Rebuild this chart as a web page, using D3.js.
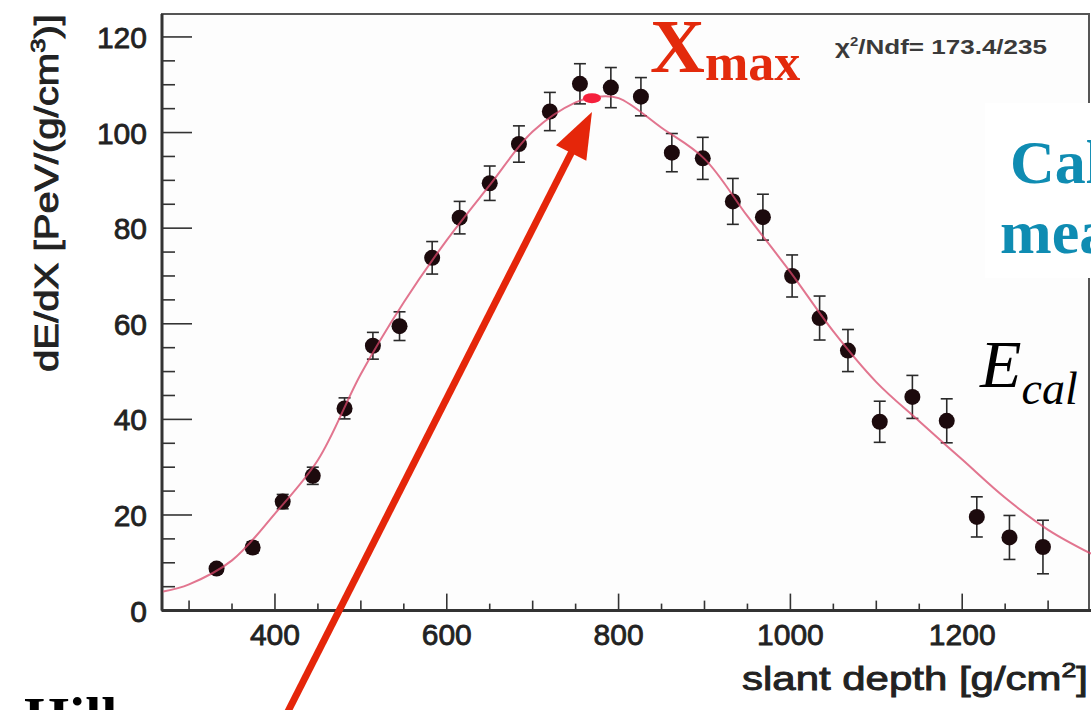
<!DOCTYPE html>
<html>
<head>
<meta charset="utf-8">
<script src="https://cdn.jsdelivr.net/npm/d3@7.9.0/dist/d3.min.js"></script>
<style>
  body { margin: 0; background: #fff; overflow: hidden; }
  svg { display: block; }
</style>
</head>
<body>
<svg id="plot" width="1091" height="710"></svg>
<script>
// measured longitudinal profile (slant depth in g/cm2, dE/dX in PeV/(g/cm2))
const depth = [332, 374, 409, 444, 481, 514, 545, 583, 615, 650, 684, 720, 755, 791,
               826, 862, 898, 933, 968, 1002, 1034, 1067, 1104, 1142, 1182, 1217, 1255, 1294];
const dEdX = [8.8, 13.2, 22.8, 28.2, 42.3, 55.4, 59.5, 73.8, 82.2, 89.4, 97.6, 104.4, 110.2, 109.4,
              107.5, 95.8, 94.6, 85.6, 82.3, 70.0, 61.2, 54.4, 39.5, 44.7, 39.7, 19.6, 15.3, 13.3];
const dEdXErr = [1.0, 1.2, 1.5, 1.8, 2.2, 2.8, 3.0, 3.4, 3.4, 3.6, 3.8, 4.0, 4.2, 4.2,
                 4.0, 4.0, 4.4, 4.8, 4.8, 4.4, 4.6, 4.4, 4.3, 4.5, 4.6, 4.2, 4.6, 5.6];

// Gaisser-Hillas fit
const fitDepth = [270, 300, 350, 400, 450, 500, 550, 600, 650, 700, 750, 775, 800, 850,
                  900, 950, 1000, 1050, 1100, 1150, 1200, 1250, 1300, 1350];
const fitValue = [4.0, 5.5, 10.5, 20.3, 31.5, 49.5, 64.5, 77.5, 89.0, 100.2, 106.3, 107.5, 107.2, 101.0,
                  94.5, 82.5, 70.8, 58.4, 47.8, 39.6, 31.6, 23.6, 16.9, 11.9];

const xmaxPoint = { depth: 769, value: 107.2 };

const xTicks = [400, 600, 800, 1000, 1200];
const yTicks = [0, 20, 40, 60, 80, 100, 120];

const svg = d3.select("#plot");

const x = d3.scaleLinear().domain([268.5, 1347.6]).range([162, 1089]);
const y = d3.scaleLinear().domain([0, 124.8]).range([610.6, 14]);

const axisColor = "#333";
const labelFont = "'Liberation Sans', Arial, Helvetica, sans-serif";
const serif = "'Liberation Serif', 'Times New Roman', serif";

// frame
svg.append("rect")
    .attr("x", x.range()[0]).attr("y", y.range()[1])
    .attr("width", x.range()[1] - x.range()[0])
    .attr("height", y.range()[0] - y.range()[1])
    .attr("fill", "#fdfdfd")
    .attr("stroke", "#555")
    .attr("stroke-width", 2);

// x ticks (major every 200, small every 50)
const xMinor = d3.range(300, 1350, 50);
svg.append("g").selectAll("line")
    .data(xMinor)
    .join("line")
    .attr("x1", d => x(d)).attr("x2", d => x(d))
    .attr("y1", y(0))
    .attr("y2", d => y(0) - (d % 200 === 0 ? 17 : (d % 100 === 0 ? 10 : 7)))
    .attr("stroke", axisColor).attr("stroke-width", 1.6);

// y ticks (major every 20, minor every 5)
const yMinor = d3.range(5, 125, 5);
svg.append("g").selectAll("line")
    .data(yMinor)
    .join("line")
    .attr("x1", x.range()[0])
    .attr("x2", d => x.range()[0] + (d % 20 === 0 ? 30 : 13))
    .attr("y1", d => y(d)).attr("y2", d => y(d))
    .attr("stroke", axisColor).attr("stroke-width", 1.6);

// axes lines
svg.append("line")
    .attr("x1", x.range()[0]).attr("x2", 1091)
    .attr("y1", y(0)).attr("y2", y(0))
    .attr("stroke", "#333").attr("stroke-width", 3);
svg.append("line")
    .attr("x1", x.range()[0]).attr("x2", x.range()[0])
    .attr("y1", y.range()[1]).attr("y2", y(0))
    .attr("stroke", "#333").attr("stroke-width", 3);

// tick labels
svg.append("g").selectAll("text")
    .data(xTicks)
    .join("text")
    .attr("x", d => x(d))
    .attr("y", 645)
    .attr("text-anchor", "middle")
    .attr("font-family", labelFont)
    .attr("font-size", 30)
    .attr("fill", "#222")
    .attr("stroke", "#222").attr("stroke-width", 0.8)
    .text(d => d);

svg.append("g").selectAll("text")
    .data(yTicks)
    .join("text")
    .attr("x", 147)
    .attr("y", d => y(d) + 11)
    .attr("text-anchor", "end")
    .attr("font-family", labelFont)
    .attr("font-size", 30)
    .attr("fill", "#222")
    .attr("stroke", "#222").attr("stroke-width", 0.8)
    .text(d => d);

// axis titles
svg.append("text")
    .attr("x", 1088).attr("y", 690)
    .attr("text-anchor", "end")
    .attr("font-family", labelFont)
    .attr("font-size", 33)
    .attr("fill", "#222")
    .attr("stroke", "#222").attr("stroke-width", 0.9)
    .attr("textLength", 346)
    .attr("lengthAdjust", "spacingAndGlyphs")
    .html("slant depth [g/cm<tspan dy='-13' font-size='21'>2</tspan><tspan dy='13'>]</tspan>");

svg.append("text")
    .attr("transform", "translate(58,372) rotate(-90)")
    .attr("font-family", labelFont)
    .attr("font-size", 33)
    .attr("fill", "#222")
    .attr("stroke", "#222").attr("stroke-width", 0.9)
    .attr("textLength", 358)
    .attr("lengthAdjust", "spacingAndGlyphs")
    .html("dE/dX [PeV/(g/cm<tspan dy='-13' font-size='21'>3</tspan><tspan dy='13'>)]</tspan>");

// chi2 text
svg.append("text")
    .attr("x", 835).attr("y", 54)
    .attr("font-family", labelFont)
    .attr("font-weight", "bold")
    .attr("font-size", 21)
    .attr("fill", "#3a3a3a")
    .attr("textLength", 212)
    .attr("lengthAdjust", "spacingAndGlyphs")
    .html("&#967;<tspan dy='-8' font-size='12'>2</tspan><tspan dy='8'>/Ndf=  173.4/235</tspan>");

// error bars
const pts = depth.map((d, i) => ({ x: d, y: dEdX[i], e: dEdXErr[i] }));
const eb = svg.append("g").attr("stroke", "#2a2a2a").attr("stroke-width", 1.6);
eb.selectAll(".bar").data(pts).join("line")
    .attr("x1", d => x(d.x)).attr("x2", d => x(d.x))
    .attr("y1", d => y(d.y - d.e)).attr("y2", d => y(d.y + d.e));
eb.selectAll(".capTop").data(pts).join("line")
    .attr("x1", d => x(d.x) - 6).attr("x2", d => x(d.x) + 6)
    .attr("y1", d => y(d.y + d.e)).attr("y2", d => y(d.y + d.e));
eb.selectAll(".capBot").data(pts).join("line")
    .attr("x1", d => x(d.x) - 6).attr("x2", d => x(d.x) + 6)
    .attr("y1", d => y(d.y - d.e)).attr("y2", d => y(d.y - d.e));

// markers
svg.append("g").selectAll("circle")
    .data(pts)
    .join("circle")
    .attr("cx", d => x(d.x))
    .attr("cy", d => y(d.y))
    .attr("r", 8)
    .attr("fill", "#1c0a0d");

// fit curve
const fit = fitDepth.map((d, i) => [d, fitValue[i]]);
svg.append("path")
    .datum(fit)
    .attr("d", d3.line().x(d => x(d[0])).y(d => y(d[1])).curve(d3.curveCatmullRom.alpha(0.5)))
    .attr("fill", "none")
    .attr("stroke", "#d8476a")
    .attr("stroke-opacity", 0.75)
    .attr("stroke-width", 2);

// Xmax marker
svg.append("ellipse")
    .attr("cx", x(xmaxPoint.depth)).attr("cy", y(xmaxPoint.value))
    .attr("rx", 9).attr("ry", 5)
    .attr("fill", "#f5203c");

// Xmax label
svg.append("text")
    .attr("x", 650).attr("y", 72)
    .attr("font-family", serif)
    .attr("font-weight", "bold")
    .attr("font-size", 76)
    .attr("fill", "#e32a0c")
    .html("X<tspan font-size='52' dy='8'>max</tspan>");

// arrow pointing at Xmax
const tail = [x(414), y(-21.5)];
const tip = [x(769), y(104.3)];
const dx = tip[0] - tail[0], dy = tip[1] - tail[1];
const len = Math.hypot(dx, dy);
const ux = dx / len, uy = dy / len;
const headLen = 46, headW = 17;
const bx = tip[0] - ux * headLen, by = tip[1] - uy * headLen;
svg.append("line")
    .attr("x1", tail[0]).attr("y1", tail[1])
    .attr("x2", bx + ux * 4).attr("y2", by + uy * 4)
    .attr("stroke", "#e5260a").attr("stroke-width", 7);
svg.append("path")
    .attr("d", `M${tip[0]},${tip[1]} L${bx - uy * headW},${by + ux * headW} L${bx + uy * headW},${by - ux * headW} Z`)
    .attr("fill", "#e5260a");

// white text box on the right with the slide text
svg.append("rect")
    .attr("x", 985).attr("y", 103)
    .attr("width", 110).attr("height", 175)
    .attr("fill", "#fff");

svg.append("text")
    .attr("x", 1010).attr("y", 183)
    .attr("font-family", serif)
    .attr("font-weight", "bold")
    .attr("font-size", 62)
    .attr("fill", "#0f8cb2")
    .text("Calorimetric");

svg.append("text")
    .attr("x", 1000).attr("y", 253)
    .attr("font-family", serif)
    .attr("font-weight", "bold")
    .attr("font-size", 62)
    .attr("fill", "#0f8cb2")
    .text("measurement");

svg.append("text")
    .attr("x", 980).attr("y", 387)
    .attr("font-family", serif)
    .attr("font-style", "italic")
    .attr("font-size", 68)
    .attr("fill", "#000")
    .html("E<tspan font-size='46' dy='17'>cal</tspan>");

svg.append("text")
    .attr("x", 24).attr("y", 737)
    .attr("font-family", serif)
    .attr("font-weight", "bold")
    .attr("font-size", 58)
    .attr("fill", "#000")
    .text("Hillas");
</script>
</body>
</html>
